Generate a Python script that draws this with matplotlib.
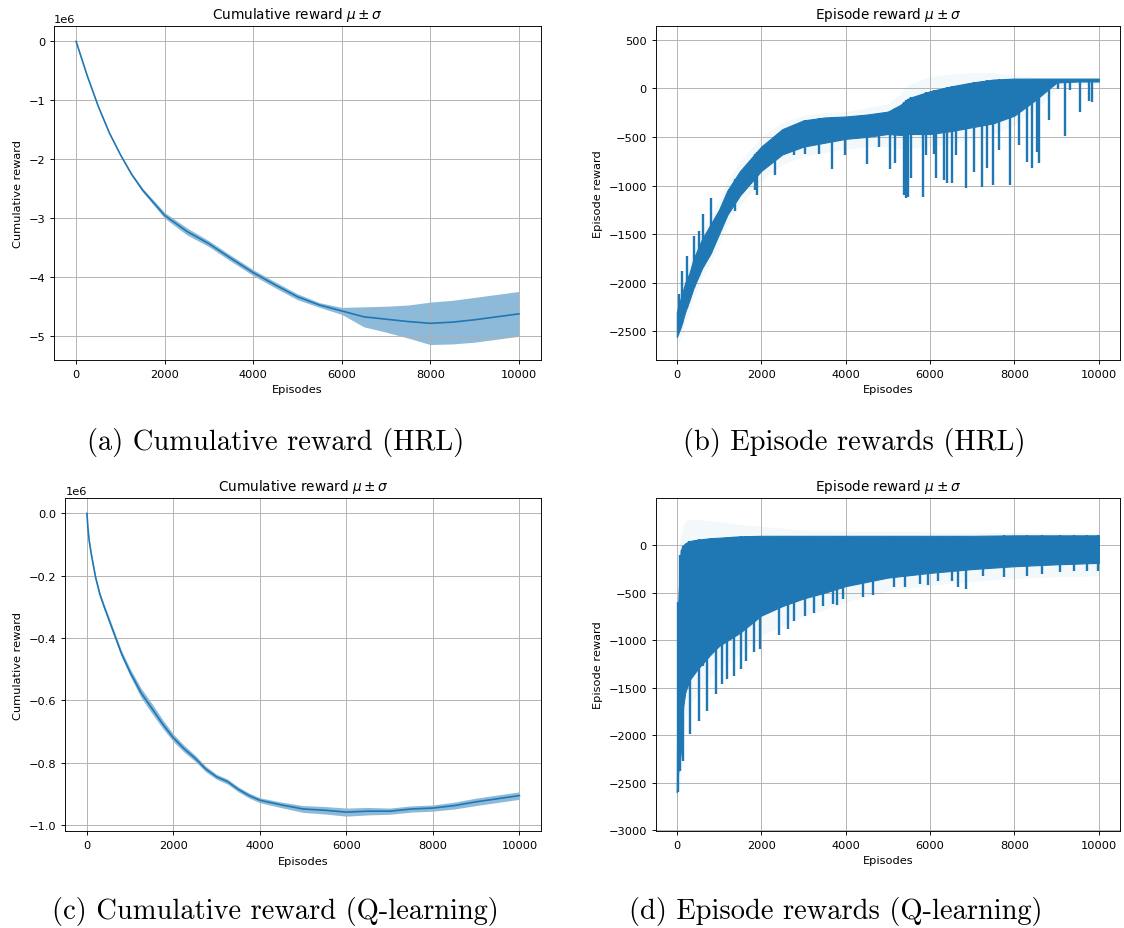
import numpy as np
import matplotlib.pyplot as plt

# ---- (a) cumulative reward, HRL (units of 1e6) ----
ep_a = [0, 250, 500, 750, 1000, 1250, 1500, 2000, 2500, 3000, 3500, 4000, 4500,
        5000, 5500, 6000, 6500, 7000, 7500, 8000, 8500, 9000, 9500, 10000]
mean_a = [0, -0.58, -1.10, -1.55, -1.92, -2.25, -2.52, -2.95, -3.22, -3.43, -3.68,
          -3.92, -4.13, -4.33, -4.47, -4.57, -4.67, -4.71, -4.75, -4.78, -4.76,
          -4.72, -4.67, -4.62]
std_a = [0, 0.005, 0.008, 0.01, 0.01, 0.02, 0.03, 0.05, 0.06, 0.05, 0.05, 0.05,
         0.05, 0.05, 0.04, 0.06, 0.17, 0.22, 0.28, 0.36, 0.37, 0.38, 0.38, 0.38]

# ---- (c) cumulative reward, Q-learning (units of 1e6) ----
ep_c = [0, 25, 50, 100, 200, 300, 400, 600, 800, 1000, 1250, 1500, 1750, 2000,
        2250, 2500, 2750, 3000, 3250, 3500, 3750, 4000, 4500, 5000, 5500, 6000,
        6500, 7000, 7500, 8000, 8500, 9000, 9500, 10000]
mean_c = [0, -0.05, -0.085, -0.13, -0.205, -0.26, -0.30, -0.375, -0.45, -0.51,
          -0.575, -0.625, -0.675, -0.72, -0.755, -0.785, -0.82, -0.845, -0.86,
          -0.885, -0.905, -0.92, -0.935, -0.948, -0.952, -0.958, -0.955, -0.955,
          -0.948, -0.945, -0.937, -0.925, -0.915, -0.905]
std_c = [0, 0.002, 0.004, 0.005, 0.006, 0.007, 0.008, 0.009, 0.01, 0.012, 0.015,
         0.016, 0.014, 0.012, 0.011, 0.01, 0.009, 0.008, 0.008, 0.008, 0.008,
         0.008, 0.009, 0.011, 0.012, 0.013, 0.012, 0.01, 0.01, 0.01, 0.011, 0.012,
         0.012, 0.012]

# ---- (b) episode reward, HRL ----
ep_b = [0, 100, 200, 300, 400, 600, 800, 1000, 1200, 1500, 2000, 2500, 3000, 3500,
        4000, 4500, 5000, 5300, 5500, 6000, 6500, 7000, 7500, 8000, 8500, 9000,
        9500, 10000]
hi_b = [-2300, -2150, -2000, -1900, -1750, -1550, -1400, -1250, -1050, -850, -600,
        -420, -330, -300, -290, -270, -240, -170, -100, -30, 20, 60, 90, 100, 100,
        100, 100, 100]
lo_b = [-2560, -2450, -2300, -2180, -2050, -1850, -1700, -1500, -1300, -1100, -850,
        -680, -600, -560, -520, -500, -470, -480, -470, -470, -440, -400, -360,
        -280, -120, 60, 70, 70]
band_hi_b = [-2200, -2050, -1900, -1800, -1650, -1450, -1300, -1150, -950, -750,
             -500, -350, -280, -250, -240, -200, -160, -60, 40, 120, 150, 160, 160,
             140, 110, 105, 105, 105]
band_lo_b = [-2650, -2550, -2400, -2300, -2150, -1950, -1800, -1600, -1400, -1200,
             -950, -780, -700, -660, -630, -600, -600, -620, -620, -600, -560,
             -520, -470, -380, -220, 0, 40, 40]
spike_ep_b = [60, 120, 230, 400, 520, 620, 810]
spike_up_b = [-2120, -1880, -1720, -1520, -1470, -1290, -1130]
drop_ep_b = [1380, 1850, 1890, 2315, 2765, 3040, 3380, 3680, 3975, 4510, 4785, 5040,
             5165, 5380, 5440, 5480, 5550, 5830, 5915, 6100, 6145, 6340, 6400, 6510,
             6610, 6850, 7040, 7225, 7360, 7490, 7635, 7890, 8100, 8300, 8420, 8530,
             8570, 8810, 9040, 9190, 9320, 9550, 9760, 9830]
drop_b = [-1267, -1045, -1097, -892, -688, -671, -671, -831, -688, -783, -603, -831,
          -773, -1097, -1131, -1114, -926, -1114, -688, -671, -926, -943, -977,
          -977, -688, -1029, -858, -1012, -824, -995, -637, -995, -586, -756, -824,
          -654, -773, -330, -7, -494, -14, -245, -126, -136]

# ---- (d) episode reward, Q-learning ----
ep_d = [0, 15, 30, 60, 90, 120, 150, 200, 300, 500, 800, 1000, 1500, 2000, 2500,
        3000, 3500, 4000, 5000, 6000, 7000, 8000, 9000, 10000]
hi_d = [-2600, -1200, -650, -350, -50, -30, 0, 20, 45, 60, 75, 80, 95, 100, 100,
        100, 100, 100, 100, 100, 100, 105, 105, 105]
lo_d = [-2600, -2500, -2400, -2300, -2200, -2050, -1700, -1550, -1420, -1300,
        -1150, -1060, -920, -740, -640, -560, -500, -430, -340, -290, -250, -220,
        -200, -185]
band_hi_d = [-2400, -900, -300, 0, 100, 150, 200, 250, 270, 270, 260, 250, 220,
             200, 180, 160, 155, 150, 145, 140, 138, 135, 132, 130]
band_lo_d = [-2800, -2750, -2650, -2550, -2450, -2300, -2000, -1850, -1700, -1550,
             -1400, -1300, -1150, -950, -850, -750, -680, -600, -480, -420, -380,
             -350, -330, -320]
drop_ep_d = [35, 85, 145, 230, 300, 315, 440, 530, 610, 725, 810, 935, 1065, 1190,
             1295, 1360, 1530, 1635, 1830, 1975, 2415, 2630, 2785, 3040, 3250, 3465,
             3695, 3790, 3930, 4400, 4655, 5150, 5405, 5760, 5950, 6190, 6530, 6655,
             6840, 7250, 7760, 8290, 8650, 9080, 9420, 9720, 9975]
drop_d = [-2600, -2375, -2270, -1500, -1390, -1990, -1300, -1855, -1270, -1745,
          -1075, -1570, -1460, -1410, -935, -1375, -1300, -1215, -1128, -1092, -940,
          -880, -795, -740, -713, -636, -618, -629, -566, -548, -523, -443, -443,
          -408, -415, -372, -372, -443, -460, -320, -337, -320, -302, -285, -267,
          -267, -267]

captions = ["(a) Cumulative reward (HRL)", "(b) Episode rewards (HRL)",
            "(c) Cumulative reward (Q-learning)", "(d) Episode rewards (Q-learning)"]

W, H = 1124, 929
C0 = "#1f77b4"
plt.rcParams.update({
    "font.size": 8.2, "axes.linewidth": 0.66, "xtick.major.width": 0.66,
    "ytick.major.width": 0.66, "xtick.major.size": 2.9, "ytick.major.size": 2.9,
    "grid.linewidth": 0.66, "axes.titlesize": 9.8, "axes.labelsize": 8.2,
})

fig = plt.figure(figsize=(W / 100, H / 100), dpi=100)


def px_axes(x0, y0, x1, y1):
    return fig.add_axes([x0 / W, 1 - y1 / H, (x1 - x0) / W, (y1 - y0) / H])


def cumulative(ax, ep, mean, std):
    ep = np.array(ep)
    m = np.array(mean) * 1e6
    s = np.array(std) * 1e6
    ax.plot(ep, m, color=C0, lw=1.2)
    ax.fill_between(ep, m - s, m + s, color=C0, alpha=0.5, lw=0)
    ax.set_title(r"Cumulative reward $\mu \pm \sigma$")
    ax.set_xlabel("Episodes")
    ax.set_ylabel("Cumulative reward")
    ax.grid(True)


def episode(ax, ep, hi, lo, band_hi, band_lo, drop_ep, drop, up_ep=None, up=None):
    ax.fill_between(ep, band_lo, band_hi, color=C0, alpha=0.05, lw=0)
    ax.fill_between(ep, lo, hi, color=C0, lw=0.8, edgecolor=C0, zorder=2)
    tops = np.interp(drop_ep, ep, hi)
    ax.vlines(drop_ep, drop, tops, color=C0, lw=1.7, zorder=2)
    if up_ep is not None:
        bots = np.interp(up_ep, ep, lo)
        ax.vlines(up_ep, bots, up, color=C0, lw=1.7, zorder=2)
    ax.set_title(r"Episode reward $\mu \pm \sigma$")
    ax.set_xlabel("Episodes")
    ax.set_ylabel("Episode reward")
    ax.set_xlim(-500, 10500)
    ax.grid(True)


ax_a = px_axes(54, 27.3, 541, 360.7)
cumulative(ax_a, ep_a, mean_a, std_a)

ax_b = px_axes(655.7, 27.3, 1120, 360.7)
episode(ax_b, ep_b, hi_b, lo_b, band_hi_b, band_lo_b, drop_ep_b, drop_b,
        spike_ep_b, spike_up_b)
ax_b.set_ylim(-2792, 638)

ax_c = px_axes(65.3, 499.3, 541, 832.3)
cumulative(ax_c, ep_c, mean_c, std_c)

ax_d = px_axes(655.7, 499.3, 1120, 831.7)
episode(ax_d, ep_d, hi_d, lo_d, band_hi_d, band_lo_d, drop_ep_d, drop_d)
ax_d.set_ylim(-3005, 495)

cap_pos = [(276, 443), (854, 443), (275, 912), (836, 912)]
for txt, (cx, cy) in zip(captions, cap_pos):
    fig.text(cx / W, 1 - cy / H, txt, ha="center", va="center",
             fontsize=20.5, family="cmr10")

fig.savefig("out.png", dpi=100)
